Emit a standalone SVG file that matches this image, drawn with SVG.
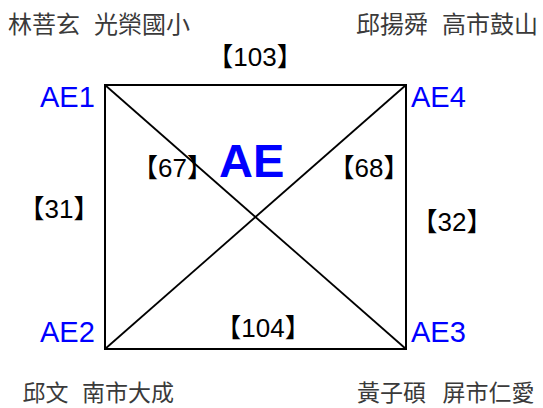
<svg xmlns="http://www.w3.org/2000/svg" width="543" height="408" viewBox="0 0 543 408">
  <style>
    .bg { fill: #ffffff; }
    .edge { stroke: #000000; stroke-width: 2; fill: none; stroke-linecap: square; }
    .diag { stroke: #000000; stroke-width: 1.8; fill: none; }
    .node { font-family: "Liberation Sans", Arial, sans-serif; font-size: 29px; fill: #0000ff; }
    .title { font-family: "Liberation Sans", Arial, sans-serif; font-size: 47px; font-weight: bold; fill: #0000ff; }
    .name { font-family: "Noto Sans CJK TC", "Noto Sans CJK JP", sans-serif; font-size: 24px; fill: #3a3a3a; }
    .name-b { font-size: 23px; }
    .elabel { font-family: "Liberation Sans", "Noto Sans CJK JP", sans-serif; font-size: 26px; fill: #000000; text-anchor: middle; }
  </style>
  <rect class="bg" x="0" y="0" width="543" height="408"/>

  <g id="connectors">
    <line id="e-AE1-AE4" class="edge" x1="105" y1="85" x2="406" y2="85"/>
    <line id="e-AE1-AE2" class="edge" x1="105" y1="85" x2="105" y2="349"/>
    <line id="e-AE4-AE3" class="edge" x1="406" y1="85" x2="406" y2="349"/>
    <line id="e-AE2-AE3" class="edge" x1="105" y1="349" x2="406" y2="349"/>
    <line id="e-AE1-AE3" class="diag" x1="105" y1="85" x2="406" y2="349"/>
    <line id="e-AE4-AE2" class="diag" x1="406" y1="85" x2="105" y2="349"/>
    <text class="elabel" x="255" y="66">【103】</text>
    <text class="elabel" x="59" y="218">【31】</text>
    <text class="elabel" x="452" y="231">【32】</text>
    <text class="elabel" x="263" y="337">【104】</text>
    <text class="elabel" x="172.5" y="177">【67】</text>
    <text class="elabel" x="369" y="177">【68】</text>
  </g>

  <text id="title" class="title" x="219" y="177">AE</text>

  <g id="node-AE1">
    <text class="node" x="40" y="107">AE1</text>
    <text class="name" x="8" y="33">林菩玄 <tspan x="94">光榮國小</tspan></text>
  </g>
  <g id="node-AE4">
    <text class="node" x="411" y="107">AE4</text>
    <text class="name" x="356" y="33">邱揚舜 <tspan x="442">高市鼓山</tspan></text>
  </g>
  <g id="node-AE2">
    <text class="node" x="40" y="341.5">AE2</text>
    <text class="name name-b" x="22.5" y="401">邱文 <tspan x="82">南市大成</tspan></text>
  </g>
  <g id="node-AE3">
    <text class="node" x="411" y="341.5">AE3</text>
    <text class="name name-b" x="357" y="401">黃子碩 <tspan x="442.5">屏市仁愛</tspan></text>
  </g>
</svg>
